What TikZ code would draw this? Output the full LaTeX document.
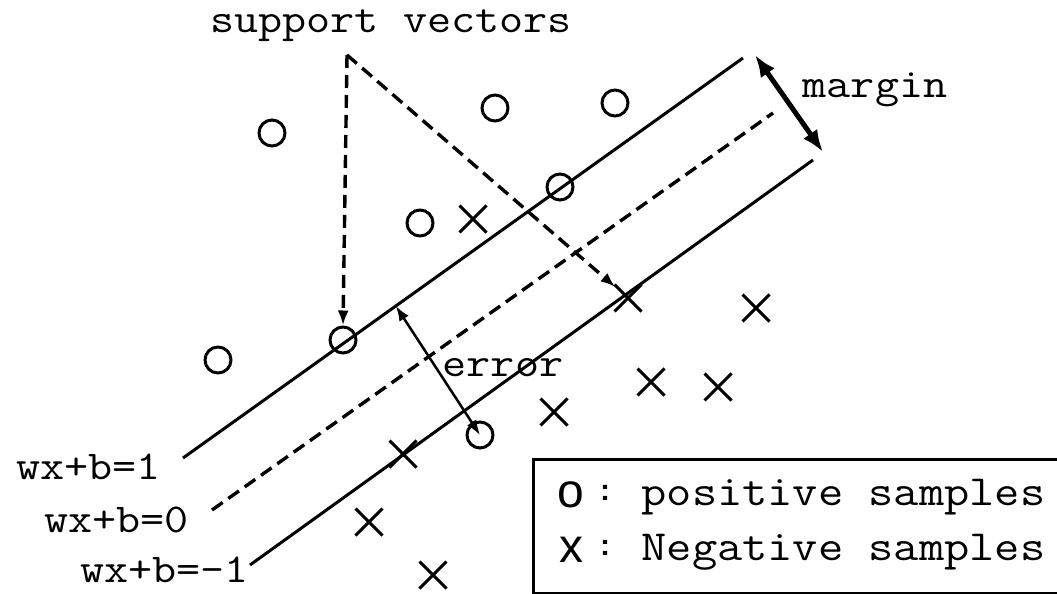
\documentclass[tikz,border=0pt]{standalone}
\usepackage{fontspec}
\newfontfamily\courfont{Latin Modern Mono}[FakeStretch=1.14]
\newfontfamily\symfont{Liberation Sans}
\usetikzlibrary{shapes.misc,arrows.meta,calc}
\tikzset{
	possample/.style={draw,circle,line width=3pt,minimum size=26pt,inner sep=0pt},
	negsample/.style={draw,cross out,line width=3pt,minimum size=24pt,inner sep=0pt},
	lbl/.style={font=\courfont\fontsize{41}{48}\selectfont,inner sep=0pt},
	legtext/.style={font=\courfont\fontsize{43}{50}\selectfont,inner sep=0pt,anchor=base west},
	legsym/.style={font=\symfont\fontsize{48}{54}\selectfont,inner sep=0pt},
	legcolon/.style={font=\symfont\bfseries\fontsize{30}{34}\selectfont,inner sep=0pt,anchor=base},
	dashline/.style={dash pattern=on 13pt off 7pt,line width=3.4pt},
}
\begin{document}
\begin{tikzpicture}[x=1pt,y=-1pt,>={Latex[length=15pt,width=11pt]},line width=3pt]
	\useasboundingbox (0,0) rectangle (1057,594);
	% the three hyperplanes
	\coordinate (a1) at (183,458); \coordinate (a2) at (743,58);
	\coordinate (b1) at (212,510); \coordinate (b2) at (773,113);
	\coordinate (c1) at (250,565); \coordinate (c2) at (813,160);
	\draw (a1) -- (a2);
	\draw[dashline] (b1) -- (b2);
	\draw (c1) -- (c2);
	\node[lbl,anchor=east] (l1) at (162,467) {wx+b=1};
	\node[lbl,anchor=east] (l0) at (190,520) {wx+b=0};
	\node[lbl,anchor=east] (lm) at (250,570) {wx+b=-1};
	% samples
	\foreach \n/\x/\y in {1/272/133,2/495/108,3/615/103,4/420/223,5/560/187,6/343/340,7/218/360,8/480/435}
		\node[possample] (p\n) at (\x,\y) {};
	\foreach \n/\x/\y in {1/473/219,2/628/298,3/756/308,4/651/382,5/718/387,6/554/412,7/403/454,8/369/522,9/433/575}
		\node[negsample] (n\n) at (\x,\y) {};
	% support vectors
	\node[lbl] (sv) at (391,26) {support vectors};
	\coordinate (apex) at (347,55);
	\draw[->,dashline] (apex) -- (p6.north);
	\draw[->,dashline] (apex) -- ($(apex)!0.955!(n2)$);
	% margin
	\coordinate (m1) at (755,55); \coordinate (m2) at (823,152);
	\draw[{Latex[length=22pt,width=17pt]}-{Latex[length=22pt,width=17pt]},line width=5pt] (m1) -- (m2);
	\node[lbl] (mg) at (875,90) {margin};
	% error
	\coordinate (e1) at ($(a1)!0.38!(a2)$);
	\draw[<->,line width=2.5pt] (p8.center) -- (e1);
	\node[lbl] (er) at (503,368) {error};
	% legend
	\node[draw,line width=3pt,anchor=north west,minimum width=560pt,minimum height=134pt] (leg) at (532,458) {};
	\node[legsym] (s1) at (571,495) {o};
	\node[legsym] (s2) at (571,550) {x};
	\node[legcolon] (c1) at (605,500) {:};
	\node[legcolon] (c2) at (605,555) {:};
	\node[legtext] (t1) at (640,505) {positive samples};
	\node[legtext] (t2) at (640,560) {Negative samples};
\end{tikzpicture}
\end{document}
